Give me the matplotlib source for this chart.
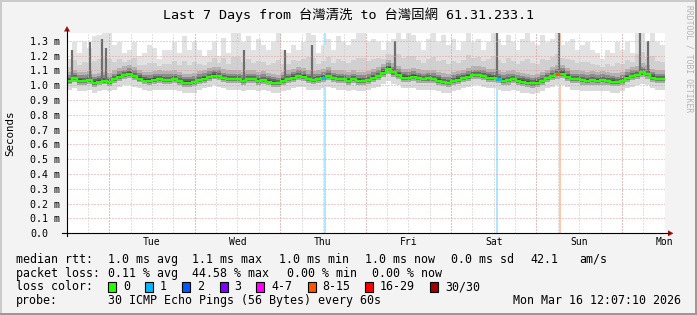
import numpy as np
import matplotlib
matplotlib.use('Agg')
import matplotlib.pyplot as plt
import matplotlib.dates as mdates
from matplotlib.patches import Rectangle, Polygon
from matplotlib.lines import Line2D
from matplotlib.ticker import NullLocator
from datetime import datetime

# ---------------- data ----------------
title = "Last 7 Days from 台灣清洗 to 台灣固網 61.31.233.1"
start = datetime(2026, 3, 9, 12, 7, 10)
end = datetime(2026, 3, 16, 12, 7, 10)

# median RTT in ms (equal time steps across the week)
median_ms = [
    1.030, 1.046, 1.030, 1.028, 1.035, 1.017, 1.025, 1.030, 1.020, 1.040,
    1.057, 1.068, 1.077, 1.062, 1.045, 1.032, 1.030, 1.038, 1.040, 1.035,
    1.035, 1.040, 1.028, 1.017, 1.017, 1.022, 1.035, 1.043, 1.055, 1.065,
    1.062, 1.048, 1.040, 1.040, 1.040, 1.030, 1.040, 1.040, 1.030, 1.035,
    1.025, 1.017, 1.012, 1.030, 1.040, 1.052, 1.062, 1.057, 1.040, 1.035,
    1.040, 1.050, 1.062, 1.046, 1.040, 1.040, 1.030, 1.040, 1.030, 1.028,
    1.035, 1.050, 1.062, 1.085, 1.110, 1.088, 1.070, 1.052, 1.050, 1.057,
    1.048, 1.040, 1.046, 1.042, 1.032, 1.020, 1.015, 1.028, 1.038, 1.046,
    1.057, 1.068, 1.068, 1.062, 1.052, 1.050, 1.040, 1.030, 1.035, 1.040,
    1.030, 1.025, 1.017, 1.012, 1.017, 1.028, 1.046, 1.062, 1.075, 1.078,
    1.057, 1.040, 1.040, 1.035, 1.030, 1.035, 1.030, 1.035, 1.028, 1.025,
    1.020, 1.028, 1.050, 1.062, 1.068, 1.088, 1.075, 1.052, 1.040, 1.040,
]
# highest ping of each step (top of the smoke), ms
smoke_top_ms = [
    1.18, 1.29, 1.22, 1.29, 1.25, 1.33, 1.34, 1.36, 1.36, 1.27,
    1.29, 1.22, 1.24, 1.29, 1.20, 1.22, 1.27, 1.25, 1.18, 1.24,
    1.24, 1.29, 1.22, 1.33, 1.24, 1.29, 1.24, 1.20, 1.24, 1.29,
    1.20, 1.32, 1.22, 1.36, 1.36, 1.29, 1.33, 1.24, 1.31, 1.27,
    1.24, 1.29, 1.36, 1.24, 1.22, 1.27, 1.24, 1.29, 1.36, 1.34,
    1.22, 1.27, 1.31, 1.24, 1.33, 1.29, 1.27, 1.31, 1.36, 1.36,
    1.29, 1.31, 1.29, 1.24, 1.29, 1.31, 1.36, 1.31, 1.36, 1.34,
    1.29, 1.24, 1.31, 1.36, 1.29, 1.34, 1.27, 1.31, 1.24, 1.29,
    1.36, 1.29, 1.31, 1.24, 1.29, 1.36, 1.31, 1.27, 1.34, 1.29,
    1.24, 1.31, 1.36, 1.29, 1.27, 1.34, 1.29, 1.31, 1.36, 1.27,
    1.29, 1.31, 1.24, 1.27, 1.29, 1.24, 1.22, 1.18, 1.24, 1.22,
    1.29, 1.24, 1.29, 1.22, 1.36, 1.36, 1.29, 1.36, 1.29, 1.27,
]
# lowest ping of each step (bottom of the smoke), ms
smoke_bot_ms = [
    0.97, 0.98, 0.96, 0.96, 0.97, 0.95, 0.96, 0.97, 0.96, 0.97,
    0.99, 1.00, 1.00, 0.99, 0.98, 0.97, 0.96, 0.97, 0.97, 0.97,
    0.97, 0.97, 0.96, 0.95, 0.95, 0.95, 0.97, 0.98, 0.99, 1.00,
    0.99, 0.98, 0.97, 0.97, 0.97, 0.96, 0.97, 0.97, 0.96, 0.97,
    0.96, 0.95, 0.95, 0.96, 0.97, 0.98, 0.99, 0.99, 0.97, 0.97,
    0.97, 0.98, 0.99, 0.98, 0.97, 0.97, 0.96, 0.97, 0.96, 0.96,
    0.97, 0.98, 0.99, 1.01, 1.03, 1.01, 1.00, 0.98, 0.98, 0.98,
    0.97, 0.97, 0.97, 0.97, 0.96, 0.95, 0.95, 0.96, 0.97, 0.98,
    0.99, 1.00, 1.00, 0.99, 0.98, 0.98, 0.97, 0.96, 0.96, 0.97,
    0.96, 0.95, 0.95, 0.94, 0.95, 0.96, 0.98, 0.99, 1.00, 1.00,
    0.99, 0.97, 0.97, 0.96, 0.96, 0.96, 0.96, 0.96, 0.96, 0.95,
    0.95, 0.96, 0.98, 0.99, 1.00, 1.01, 1.00, 0.98, 0.97, 0.97,
]
# narrow dark spikes in the smoke: hours after start, top (ms)
spike_hours = [1.4, 6.5, 9.8, 11.0, 49.7, 61.2, 68.8, 92.1, 120.8, 138.2, 161.0, 163.2]
spike_tops = [1.24, 1.29, 1.31, 1.25, 1.24, 1.24, 1.27, 1.30, 1.36, 1.36, 1.36, 1.30]

# loss events: hours after start, lost pings
loss_hours = [72.5, 120.8, 138.5]
loss_counts = [1, 1, 12]

loss_labels = ['0', '1', '2', '3', '4-7', '8-15', '16-29', '30/30']
loss_lower = [0, 1, 2, 3, 4, 8, 16, 30]
loss_colors = ['#26ff00', '#00b8ff', '#0059ff', '#7e00ff',
               '#ff00ff', '#ff5500', '#ff0000', '#a00000']

y_ticks = [0.0, 0.1, 0.2, 0.3, 0.4, 0.5, 0.6, 0.7, 0.8, 0.9, 1.0, 1.1, 1.2, 1.3]
y_tick_labels = ['0.0', '0.1 m', '0.2 m', '0.3 m', '0.4 m', '0.5 m', '0.6 m',
                 '0.7 m', '0.8 m', '0.9 m', '1.0 m', '1.1 m', '1.2 m', '1.3 m']

rtt_stats = ['1.0 ms avg', '1.1 ms max', '1.0 ms min', '1.0 ms now', '0.0 ms sd', '42.1', 'am/s']
loss_stats = ['0.11 % avg', '44.58 % max', '0.00 % min', '0.00 % now']
probe_text = '30 ICMP Echo Pings (56 Bytes) every 60s'
stamp_text = 'Mon Mar 16 12:07:10 2026'

# ---------------- figure ----------------
W, H = 697, 315
BG = '#f3f3f3'
fig = plt.figure(figsize=(W / 100, H / 100), dpi=100, facecolor=BG)
MONO = ['DejaVu Sans Mono', 'Noto Sans CJK TC']


def fx(x):
    return x / W


def fy(y):
    return 1 - y / H


L, R, T, B = 67, 665, 32.7, 233.3
ax = fig.add_axes([fx(L), fy(B), (R - L) / W, (B - T) / H])
ax.set_facecolor('white')
for s in ax.spines.values():
    s.set_visible(False)

t0 = mdates.date2num(start)
t1 = mdates.date2num(end)
med = np.array(median_ms)
top = np.array(smoke_top_ms)
bot = np.array(smoke_bot_ms)
n = len(med)
edges = np.linspace(t0, t1, n + 1)


def band(lo, hi, color, z=2):
    ax.fill_between(edges, np.append(lo, lo[-1]), np.append(hi, hi[-1]),
                    step='post', color=color, lw=0, zorder=z)


def loss_color(c):
    idx = 0
    for i, lb in enumerate(loss_lower):
        if c >= lb:
            idx = i
    return loss_colors[idx]


def pale(c, a=0.32):
    rgb = np.array(matplotlib.colors.to_rgb(c))
    return tuple(1 - a * (1 - rgb))


# loss background bars
for h, c in zip(loss_hours, loss_counts):
    x = t0 + h / 24
    ax.axvspan(x - 0.26 / 24, x + 0.26 / 24, color=pale(loss_color(c)), lw=0, zorder=1)

# smoke (light outer to dark inner)
u4 = med + 0.06
u_mid = u4 + 0.35 * np.clip(top - u4, 0, None)
band(med, top, '#e2e2e2')
band(med, u_mid, '#d0d0d0')
band(med, u4, '#b2b2b2')
band(med, med + 0.038, '#8c8c8c')
band(med, med + 0.022, '#666666')
band(med, med + 0.010, '#3c3c3c')
band(bot, med, '#dadada')
band(bot + 0.6 * (med - bot), med, '#a8a8a8')
band(bot + 0.8 * (med - bot), med, '#777777')
band(bot + 0.92 * (med - bot), med, '#444444')

# dark spikes
for h, tp in zip(spike_hours, spike_tops):
    x = t0 + h / 24
    i = min(int(h / 168 * n), n - 1)
    ax.vlines(x, med[i], tp, color='#6e6e6e', lw=1.6, zorder=2.5)

ax.set_xlim(t0, t1)
ax.set_ylim(0, 1.355)

# grid
for v in y_ticks[1:]:
    ax.axhline(v, color='#e89a9a', lw=0.72, ls=(0, (1, 2)), zorder=3)
six = mdates.HourLocator(byhour=[0, 6, 12, 18]).tick_values(start, end)
for x in six:
    if t0 < x < t1:
        ax.axvline(x, color='#c4c4c4', lw=0.72, ls=(0, (1, 2)), zorder=3)
days = mdates.DayLocator().tick_values(start, end)
for x in days:
    if t0 < x < t1:
        ax.axvline(x, color='#e89a9a', lw=0.72, ls=(0, (1, 2)), zorder=3.1)

# median line
ax.step(edges, np.append(med, med[-1]), where='post', color=loss_colors[0],
        lw=1.7, zorder=5)
for h, c in zip(loss_hours, loss_counts):
    i = min(int(h / 168 * n), n - 1)
    ax.plot([edges[i], edges[i + 1]], [med[i], med[i]], color=loss_color(c),
            lw=1.9, zorder=6, solid_capstyle='butt')

# ticks
ax.set_yticks(y_ticks)
ax.set_yticklabels(y_tick_labels, family='DejaVu Sans Mono', fontsize=7.2)
for lab in ax.get_yticklabels():
    lab.set_ha('left')
ax.tick_params(axis='y', length=0, pad=26.6)
noon = [x for x in mdates.HourLocator(byhour=12).tick_values(start, end) if t0 < x <= t1 + 0.01]
ax.set_xticks(noon)
ax.xaxis.set_major_formatter(mdates.DateFormatter('%a'))
ax.xaxis.set_minor_locator(NullLocator())
ax.yaxis.set_minor_locator(NullLocator())
ax.tick_params(axis='x', length=0, pad=2.6, labelsize=7.0)
ax.tick_params(which='minor', length=0)
for lab in ax.get_xticklabels():
    lab.set_family('DejaVu Sans Mono')

# axis lines + arrows
arrow_c = '#a01010'
fig.add_artist(Line2D([fx(62), fx(669)], [fy(B), fy(B)], color='black', lw=0.8))
fig.add_artist(Line2D([fx(L), fx(L)], [fy(B + 3), fy(30)], color='black', lw=0.8))
fig.add_artist(Polygon([[fx(668), fy(B - 3)], [fx(668), fy(B + 3)], [fx(673.5), fy(B)]],
                       closed=True, color=arrow_c, lw=0))
fig.add_artist(Polygon([[fx(L - 3), fy(31.5)], [fx(L + 3), fy(31.5)], [fx(L), fy(26)]],
                       closed=True, color=arrow_c, lw=0))

# texts
fig.text(fx(348.5), fy(14.5), title, ha='center', va='center', fontsize=9.6, family=MONO)
fig.text(fx(10), fy(133), 'Seconds', rotation=90, ha='center', va='center',
         fontsize=7.8, family='DejaVu Sans Mono')
fig.text(fx(688.5), fy(59), 'RRDTOOL / TOBI OETIKER', rotation=270, ha='center',
         va='center', fontsize=5.8, family='DejaVu Sans Mono', color='#b4b4b4')

FS = 8.4
rows = [259.5, 273.3, 287.0, 300.8]
fig.text(fx(15.5), fy(rows[0]), 'median rtt:', va='center', fontsize=FS, family=MONO)
for s, x in zip(rtt_stats, [107.7, 192.4, 279, 365, 451, 530, 579]):
    fig.text(fx(x), fy(rows[0]), s, va='center', fontsize=FS, family=MONO)
fig.text(fx(15.5), fy(rows[1]), 'packet loss:', va='center', fontsize=FS, family=MONO)
for s, x in zip(loss_stats, [107.7, 192.4, 286.7, 372.4]):
    fig.text(fx(x), fy(rows[1]), s, va='center', fontsize=FS, family=MONO)
fig.text(fx(15.5), fy(rows[2]), 'loss color:', va='center', fontsize=FS, family=MONO)
box_x = [108, 145, 182, 219.6, 256.4, 307.6, 365, 430]
for lab, col, x in zip(loss_labels, loss_colors, box_x):
    fig.add_artist(Rectangle((fx(x), fy(rows[2] + 5)), 8 / W, 10 / H,
                             facecolor=col, edgecolor='black', lw=0.8))
    fig.text(fx(x + 15), fy(rows[2]), lab, va='center', fontsize=FS, family=MONO)
fig.text(fx(15.5), fy(rows[3]), 'probe:', va='center', fontsize=FS, family=MONO)
fig.text(fx(107.7), fy(rows[3]), probe_text, va='center', fontsize=FS, family=MONO)
fig.text(fx(681), fy(rows[3]), stamp_text, va='center', ha='right', fontsize=FS, family=MONO)

# 3D frame
fig.add_artist(Rectangle((0, fy(2)), 1, 2 / H, color='#cbcbcb', lw=0))
fig.add_artist(Rectangle((0, 0), 2 / W, 1, color='#cbcbcb', lw=0))
fig.add_artist(Rectangle((0, 0), 1, 2 / H, color='#999999', lw=0))
fig.add_artist(Rectangle((fx(695), 0), 2 / W, 1, color='#999999', lw=0))

fig.savefig('out.png', dpi=100, facecolor=BG)
